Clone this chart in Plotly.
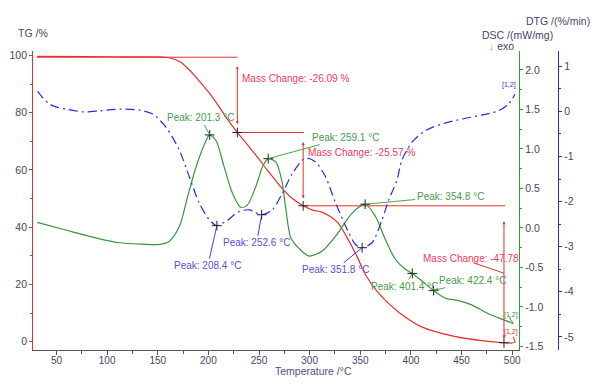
import plotly.graph_objects as go

# ---------------- data ----------------
tg_T = [31, 80, 130, 160, 172, 181, 190, 200.6, 210, 217.3, 228.6, 240, 250, 258, 265, 273, 282,
        293.6, 303, 312, 320, 328, 336, 346.5, 355, 368, 388, 410, 444, 470, 492, 500]
tg_val = [99.7, 99.6, 99.5, 99.3, 97.8, 95.0, 91.5, 87.0, 82.4, 78.5, 73.1, 68.2, 63.8, 60.0, 57.0,
          53.5, 50.3, 47.5, 46.0, 45.3, 43.8, 41.5, 37.0, 30.0, 23.5, 17.0, 10.3, 5.3, 1.8, 0.4, -0.35, -0.45]

dsc_T = [31, 60, 92.6, 112, 135, 152, 161.5, 171.4, 179.5, 187.8, 197, 201.3, 207.5, 215.6, 223.8,
         232.1, 238.6, 246.8, 253.4, 259.1, 266.5, 272.4, 276.4, 281.3, 289.5, 299.3, 312.4, 325.6,
         342, 354.8, 365, 374.8, 384.6, 394.5, 401.4, 410.8, 422.4, 433.9, 447, 460, 476.5, 493, 501]
dsc_val = [0.07, -0.03, -0.138, -0.188, -0.205, -0.209, -0.168, 0.02, 0.396, 0.772, 1.085, 1.178,
           1.107, 0.772, 0.439, 0.258, 0.292, 0.521, 0.772, 0.877, 0.835, 0.605, 0.25, -0.12, -0.26,
           -0.356, -0.293, -0.105, 0.188, 0.30, 0.145, -0.147, -0.397, -0.523, -0.576, -0.669, -0.794,
           -0.89, -0.92, -0.974, -1.086, -1.17, -1.21]

dtg_T = [31.3, 37, 43.4, 51, 59.8, 76.2, 92.6, 112.3, 132, 145.1, 158.3, 171.4, 181.2, 191, 200.9,
         208.4, 217.3, 230.4, 240.3, 252.6, 263.2, 273, 282.9, 292.7, 297.6, 305.9, 315.7, 325.6,
         338.7, 345.3, 351.8, 361.6, 371.5, 378.1, 386.2, 391.1, 401, 414.2, 430.5, 450.2, 469.9,
         486.3, 496.2, 502.8]
dtg_val = [0.452, 0.29, 0.16, 0.09, 0.05, -0.009, 0.013, 0.05, 0.029, -0.059, -0.353, -0.865, -1.451,
           -2.035, -2.402, -2.533, -2.439, -2.22, -2.182, -2.292, -2.182, -1.816, -1.376, -1.085,
           -1.034, -1.122, -1.451, -2.03, -2.694, -2.951, -3.023, -2.913, -2.402, -1.963, -1.524,
           -1.085, -0.683, -0.426, -0.279, -0.169, -0.081, 0.013, 0.16, 0.38]

dsc_peak_T = [201.3, 259.1, 354.8, 401.4, 422.4]
dsc_peak_val = [1.178, 0.877, 0.30, -0.576, -0.794]
dtg_peak_T = [208.4, 252.6, 351.8]
dtg_peak_val = [-2.533, -2.292, -3.023]

mc_T = [228.6, 293.6, 491.9]
mc_TG = [73.1, 47.5, -0.35]
mc_labels = ["Mass Change: -26.09 %", "Mass Change: -25.57 %", "Mass Change: -47.78"]
base_TG = [99.4, 73.1, 47.5]
base_T0 = [30.6, 228.6, 293.6]
base_T1 = [228.6, 294.4, 492.9]

x_ticks = [50, 100, 150, 200, 250, 300, 350, 400, 450, 500]
tg_ticks = [0, 20, 40, 60, 80, 100]
dsc_ticks = [-1.5, -1.0, -0.5, 0.0, 0.5, 1.0, 1.5, 2.0]
dtg_ticks = [-5, -4, -3, -2, -1, 0, 1]

# ---------------- style ----------------
RED = "#e8302a"
GREEN = "#35983a"
BLUE = "#2a2ae0"
MC_TXT = "#ee3b5b"
GP_TXT = "#4a9a4a"
BP_TXT = "#5a4ee0"
AX_TXT = "#4a4463"
FONT = "Liberation Sans, Arial, sans-serif"


def px(x):
    return x / 600.0


def py(y):
    return 1 - y / 386.0


fig = go.Figure()

# horizontal baselines for mass change steps
for t0, t1, lv in zip(base_T0, base_T1, base_TG):
    fig.add_trace(go.Scatter(x=[t0, t1], y=[lv, lv], mode="lines",
                             line=dict(color=RED, width=1), yaxis="y", hoverinfo="skip"))

fig.add_trace(go.Scatter(x=tg_T, y=tg_val, mode="lines", line=dict(color=RED, width=1.2, shape="spline", smoothing=0.8),
                         yaxis="y"))
fig.add_trace(go.Scatter(x=dsc_T, y=dsc_val, mode="lines", line=dict(color=GREEN, width=1.2, shape="spline", smoothing=0.8),
                         yaxis="y2"))
fig.add_trace(go.Scatter(x=dtg_T, y=dtg_val, mode="lines",
                         line=dict(color=BLUE, width=1.2, shape="spline", smoothing=0.8, dash="9px,4px,2px,4px"),
                         yaxis="y3"))

# small end hooks leading to the [1,2] tags
fig.add_trace(go.Scatter(x=[tg_T[-1], tg_T[-1] + 3, tg_T[-1] + 1], y=[tg_val[-1], tg_val[-1] + 0.3, tg_val[-1] + 2.2],
                         mode="lines", line=dict(color=RED, width=1), yaxis="y"))
fig.add_trace(go.Scatter(x=[dsc_T[-1], dsc_T[-1] - 4], y=[dsc_val[-1], dsc_val[-1] + 0.08],
                         mode="lines", line=dict(color=GREEN, width=1), yaxis="y2"))

mk = dict(symbol="cross-thin", size=7, line=dict(color="#222", width=1))
fig.add_trace(go.Scatter(x=mc_T, y=mc_TG, mode="markers", marker=mk, yaxis="y"))
fig.add_trace(go.Scatter(x=dsc_peak_T, y=dsc_peak_val, mode="markers", marker=mk, yaxis="y2"))
fig.add_trace(go.Scatter(x=dtg_peak_T, y=dtg_peak_val, mode="markers", marker=mk, yaxis="y3"))

ann = []
# vertical mass-change arrows
v_ext = [(96.8, 76.0), (70.3, 50.1), (42.6, 1.1)]
for t, (top, bot) in zip(mc_T, v_ext):
    ann.append(dict(x=t, y=bot, ax=t, ay=top, xref="x", yref="y", axref="x", ayref="y", text="",
                    showarrow=True, arrowhead=2, arrowside="end+start", arrowsize=0.6, arrowwidth=1,
                    arrowcolor=RED))
# mass change labels
mc_pos = [(231.1, 91.95), (296.1, 66.2), (410.2, 29.1)]
for (t, v), lab in zip(mc_pos, mc_labels):
    ann.append(dict(x=t, y=v, xref="x", yref="y", text=lab, showarrow=False, xanchor="left",
                    yanchor="middle", font=dict(size=10, color=MC_TXT, family=FONT)))
# connector for third label
fig.add_trace(go.Scatter(x=[461.7, 491.9], y=[27.6, 23.95], mode="lines", line=dict(color=RED, width=1),
                         yaxis="y"))

# peak labels
dsc_off = [(-9, -17), (77, -21), (85, -8), (-8, 13), (39, -10)]
for t, v, (ax, ay) in zip(dsc_peak_T, dsc_peak_val, dsc_off):
    ann.append(dict(x=t, y=v, xref="x", yref="y2", ax=ax, ay=ay, text="Peak: %.1f °C" % t,
                    showarrow=True, arrowhead=0, arrowwidth=0.9, arrowcolor=GREEN,
                    font=dict(size=10, color=GP_TXT, family=FONT)))
dtg_off = [(-9, 40), (-5, 28), (-27, 22)]
for t, v, (ax, ay) in zip(dtg_peak_T, dtg_peak_val, dtg_off):
    ann.append(dict(x=t, y=v, xref="x", yref="y3", ax=ax, ay=ay, text="Peak: %.1f °C" % t,
                    showarrow=True, arrowhead=0, arrowwidth=0.9, arrowcolor=BLUE,
                    font=dict(size=10, color=BP_TXT, family=FONT)))

# [1,2] markers
for (x, y, c) in [(511, 84, BLUE), (513, 316, GREEN), (513, 333, RED)]:
    ann.append(dict(x=px(x), y=py(y), xref="paper", yref="paper", text="[1,2]", showarrow=False,
                    xanchor="center", yanchor="middle", font=dict(size=7, color=c, family=FONT)))

# axis titles
titles = [
    (33, 31, "TG /%", AX_TXT),
    (559.7, 19.3, "DTG /(%/min)", AX_TXT),
    (519.5, 33.3, "DSC /(mW/mg)", AX_TXT),
    (503, 44, '<span style="color:#c8a040">↓</span> exo', AX_TXT),
    (314.7, 373, "Temperature /°C", "#5a4a80"),
]
for x, y, txt, col in titles:
    ann.append(dict(x=px(x), y=py(y), xref="paper", yref="paper", text=txt, showarrow=False,
                    xanchor="center", yanchor="middle", font=dict(size=10.5, color=col, family=FONT)))

ydom = [py(351.5), py(50)]
tickf = dict(size=10.5, color=AX_TXT, family=FONT)

fig.update_layout(
    width=600, height=386, margin=dict(l=0, r=0, t=0, b=0),
    paper_bgcolor="white", plot_bgcolor="white", showlegend=False,
    font=dict(family=FONT),
    annotations=ann,
    xaxis=dict(domain=[px(33.3), px(520.7)], range=[27, 506.7], tickvals=x_ticks,
               ticktext=[str(v) for v in x_ticks], ticks="outside", ticklen=4, tickcolor="#555",
               showline=True, linecolor="#555", linewidth=1, showgrid=False, zeroline=False,
               minor=dict(dtick=25, tick0=0, ticks="outside", ticklen=3, tickcolor="#555"),
               tickfont=dict(size=10, color=AX_TXT, family=FONT), anchor="y", ticklabelstandoff=-3),
    yaxis=dict(domain=ydom, range=[-2.83, 101.4], tickvals=tg_ticks, ticktext=[str(v) for v in tg_ticks],
               ticks="outside", ticklen=3, tickcolor=RED, showline=True, linecolor=RED, linewidth=1.2,
               showgrid=False, zeroline=False, tickfont=tickf,
               minor=dict(dtick=10, tick0=0, ticks="outside", ticklen=2, tickcolor=RED)),
    yaxis2=dict(overlaying="y", side="right", anchor="x", range=[-1.544, 2.234], tickvals=dsc_ticks,
                ticktext=["%.1f" % v for v in dsc_ticks], ticks="outside", ticklen=3, tickcolor=GREEN,
                showline=True, linecolor=GREEN, linewidth=1.2, showgrid=False, zeroline=False,
                tickfont=tickf, minor=dict(dtick=0.25, tick0=0, ticks="outside", ticklen=2, tickcolor=GREEN)),
    yaxis3=dict(overlaying="y", side="right", anchor="free", position=px(560), range=[-5.289, 1.33],
                tickvals=dtg_ticks, ticktext=[str(v) for v in dtg_ticks], ticks="outside", ticklen=3,
                tickcolor=BLUE, showline=True, linecolor=BLUE, linewidth=1.2, showgrid=False,
                zeroline=False, tickfont=tickf,
                minor=dict(dtick=0.5, tick0=0, ticks="outside", ticklen=2, tickcolor=BLUE)),
)

fig.write_html("out.html", config={"displayModeBar": False},
               post_script="document.body.style.margin='0';document.body.style.overflow='hidden';")
